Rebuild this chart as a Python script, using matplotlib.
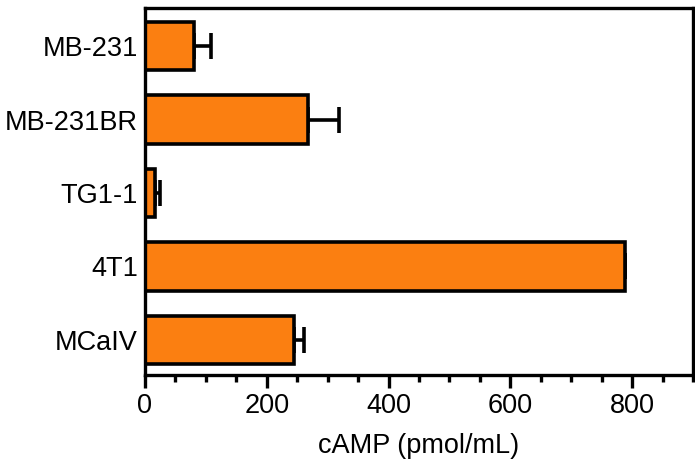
import matplotlib
matplotlib.use("Agg")
import matplotlib.pyplot as plt
from matplotlib.ticker import MultipleLocator

plt.rcParams['font.family'] = ['Liberation Sans', 'DejaVu Sans']

categories = ["MB-231", "MB-231BR", "TG1-1", "4T1", "MCaIV"]
values = [81, 267, 16, 789, 245]
errors = [27, 52, 9, 0, 16]
xlabel = "cAMP (pmol/mL)"
xticks = [0, 200, 400, 600, 800]

fig = plt.figure(figsize=(6.95, 4.71), dpi=100)
ax = fig.add_axes([145/695, 1-375/471, (693-145)/695, (375-8)/471])

y = list(range(len(categories)))
ax.barh(y, values, height=0.66, color="#FB7F11", edgecolor="black", linewidth=2.6, zorder=2)
ax.errorbar(values, y, xerr=[[0]*len(errors), errors], fmt="none", ecolor="black",
            elinewidth=2.6, capsize=9.5, capthick=2.6, zorder=1)

ax.set_xlim(0, 900)
ax.set_ylim(4.48, -0.52)
ax.set_yticks(y)
ax.set_yticklabels(categories)
ax.set_xticks(xticks)
ax.xaxis.set_minor_locator(MultipleLocator(50))
ax.tick_params(axis='x', which='major', length=9, width=2.4, labelsize=19.5, pad=4)
ax.tick_params(axis='x', which='minor', length=5, width=2.4)
ax.tick_params(axis='y', length=0, labelsize=19.5, pad=5)
for s in ax.spines.values():
    s.set_linewidth(2.4)
ax.set_xlabel(xlabel, fontsize=19.5, labelpad=10)

fig.savefig("out.png", dpi=100)
